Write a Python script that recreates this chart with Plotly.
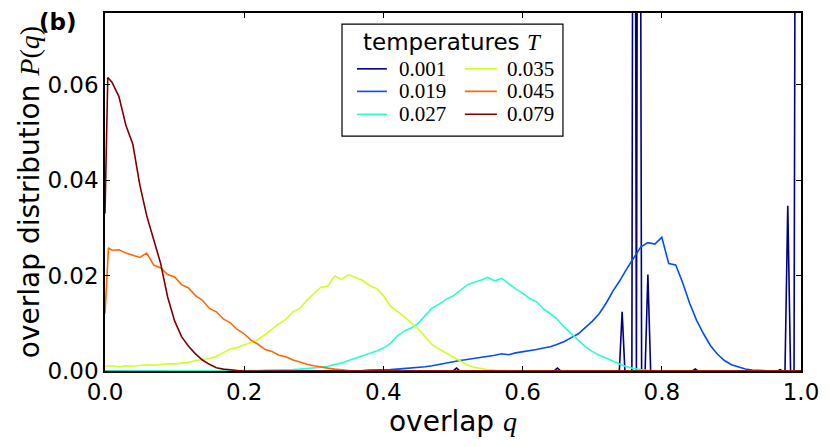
import plotly.graph_objects as go

# overlap histograms P(q) for six temperatures
temps = ["0.001", "0.019", "0.027", "0.035", "0.045", "0.079"]
colors = ["#000080", "#004cff", "#29ffce", "#ceff29", "#ff6800", "#800000"]

q_grid = [round(0.01 * i, 2) for i in range(101)]

# T = 0.001 : frozen, only a few spikes
q_t001 = [0.0, 0.500, 0.505, 0.510, 0.645, 0.650, 0.655, 0.739, 0.743, 0.747,
          0.757, 0.760, 0.7635, 0.767, 0.771, 0.776, 0.780, 0.784, 0.844, 0.848,
          0.852, 0.966, 0.970, 0.974, 0.977, 0.981, 0.985, 0.990, 0.994, 1.0]
p_t001 = [0.0, 0.0, 0.0006, 0.0, 0.0, 0.0006, 0.0, 0.0, 0.0124, 0.0,
          0.0, 0.25, 0.0, 0.25, 0.0, 0.0, 0.0202, 0.0, 0.0, 0.0004,
          0.0, 0.0, 0.0003, 0.0, 0.0, 0.0346, 0.0, 0.0, 0.25, 0.25]

p_t019 = [0.0] * 35 + [
    0.0001, 0.0001, 0.0001, 0.0002, 0.0002, 0.0003, 0.0003, 0.0004, 0.0005, 0.0006,
    0.0007, 0.0009, 0.0011, 0.0014, 0.0016, 0.0020, 0.0022, 0.0024, 0.0026, 0.0028,
    0.0030, 0.0033, 0.0036, 0.0034, 0.0038, 0.0040, 0.0042, 0.0045, 0.0048, 0.0051,
    0.0056, 0.0062, 0.0070, 0.0078, 0.0091, 0.0104, 0.0120, 0.0142, 0.0168, 0.0190,
    0.0215, 0.0238, 0.0260, 0.0269, 0.0266, 0.0280, 0.0225, 0.0222, 0.0185, 0.0142,
    0.0106, 0.0078, 0.0053, 0.0035, 0.0022, 0.0013, 0.0008, 0.0004, 0.0002, 0.0001,
    0.0, 0.0, 0.0, 0.0, 0.0, 0.0]

p_t027 = [0.0] * 20 + [
    0.0001, 0.0001, 0.0001, 0.0002, 0.0002, 0.0002, 0.0003, 0.0003, 0.0004, 0.0005,
    0.0006, 0.0008, 0.0010, 0.0013, 0.0017, 0.0022, 0.0027, 0.0031, 0.0036, 0.0042,
    0.0048, 0.0058, 0.0073, 0.0084, 0.0090, 0.0100, 0.0116, 0.0132, 0.0140, 0.0150,
    0.0157, 0.0168, 0.0180, 0.0186, 0.0190, 0.0196, 0.0189, 0.0194, 0.0183, 0.0172,
    0.0163, 0.0152, 0.0145, 0.0130, 0.0120, 0.0108, 0.0092, 0.0078, 0.0063, 0.0051,
    0.0041, 0.0033, 0.0027, 0.0020, 0.0014, 0.0009, 0.0005, 0.0003, 0.0001] + [0.0] * 22

p_t035 = [
    0.0010, 0.0011, 0.0009, 0.0011, 0.0010, 0.0012, 0.0013, 0.0012, 0.0014, 0.0015,
    0.0015, 0.0017, 0.0018, 0.0022, 0.0024, 0.0026, 0.0031, 0.0038, 0.0046, 0.0049,
    0.0055, 0.0059, 0.0066, 0.0076, 0.0087, 0.0099, 0.0108, 0.0124, 0.0131, 0.0148,
    0.0162, 0.0175, 0.0178, 0.0199, 0.0192, 0.0202, 0.0196, 0.0190, 0.0179, 0.0173,
    0.0158, 0.0136, 0.0125, 0.0114, 0.0101, 0.0088, 0.0072, 0.0055, 0.0046, 0.0038,
    0.0029, 0.0021, 0.0013, 0.0008, 0.0005, 0.0003, 0.0002, 0.0001] + [0.0] * 43

q_t045 = [0.0, 0.005] + q_grid[1:]
p_t045 = [
    0.0120, 0.0258, 0.0253, 0.0254, 0.0247, 0.0243, 0.0238, 0.0247, 0.0222, 0.0216,
    0.0202, 0.0197, 0.0181, 0.0174, 0.0158, 0.0148, 0.0131, 0.0124, 0.0109, 0.0101,
    0.0087, 0.0078, 0.0064, 0.0056, 0.0045, 0.0041, 0.0033, 0.0030, 0.0023, 0.0019,
    0.0014, 0.0011, 0.0008, 0.0006, 0.0004, 0.0002, 0.0001] + [0.0] * 65

q_t079 = [0.0, 0.004] + q_grid[1:]
p_t079 = [
    0.0330, 0.0615, 0.0605, 0.0575, 0.0515, 0.0475, 0.0390, 0.0325, 0.0275, 0.0225,
    0.0155, 0.0105, 0.0072, 0.0052, 0.0036, 0.0023, 0.0014, 0.0007, 0.0004, 0.0002,
    0.0001] + [0.0] * 81

xs = [q_t001, q_grid, q_grid, q_grid, q_t045, q_t079]
ys = [p_t001, p_t019, p_t027, p_t035, p_t045, p_t079]

serif = "Liberation Serif"
sans = "DejaVu Sans"

fig = go.Figure()
for t, c, x, y in zip(temps, colors, xs, ys):
    fig.add_trace(go.Scatter(x=x, y=y, mode="lines", name=t,
                             line=dict(color=c, width=1.6)))

# legend drawn by hand: two columns of three entries inside a framed box
leg_rows = [0.844, 0.781, 0.717]
leg_cols = [(0.362, 0.405, 0.4195), (0.517, 0.563, 0.575)]
shapes = [dict(type="rect", xref="paper", yref="paper",
               x0=0.3405, x1=0.658, y0=0.656, y1=0.969,
               line=dict(color="black", width=1.2), fillcolor="white", layer="above")]
annotations = [
    dict(text="temperatures <span style=\"font-family:'Liberation Serif'\"><i>T</i></span>",
         xref="paper", yref="paper", x=0.4995, y=0.92, xanchor="center", yanchor="middle",
         showarrow=False, font=dict(family=sans, size=23)),
    dict(text="<b>(b)</b>", xref="paper", yref="paper", x=-0.098, y=0.975,
         xanchor="left", yanchor="middle", showarrow=False,
         font=dict(family=sans, size=23)),
]
for i, (t, c) in enumerate(zip(temps, colors)):
    x0, x1, xt = leg_cols[i // 3]
    yy = leg_rows[i % 3]
    shapes.append(dict(type="line", xref="paper", yref="paper", x0=x0, x1=x1, y0=yy, y1=yy,
                       line=dict(color=c, width=1.6), layer="above"))
    annotations.append(dict(text=t, xref="paper", yref="paper", x=xt, y=yy,
                            xanchor="left", yanchor="middle", showarrow=False,
                            font=dict(family=serif, size=21)))

fig.update_layout(
    width=830, height=447,
    margin=dict(l=105, r=29, t=11, b=76),
    paper_bgcolor="white", plot_bgcolor="white",
    font=dict(family=sans, size=23, color="black"),
    showlegend=False,
    xaxis=dict(
        range=[0, 1], tickvals=[0, 0.2, 0.4, 0.6, 0.8, 1.0], tickformat=".1f",
        ticks="inside", ticklen=5, tickwidth=1, tickcolor="black",
        showline=True, linecolor="black", linewidth=1.5, mirror="allticks",
        showgrid=False, zeroline=False,
        title=dict(text="overlap <span style=\"font-family:'Liberation Serif'\"><i>q</i></span>",
                   standoff=2),
    ),
    yaxis=dict(
        range=[0, 0.075], tickvals=[0, 0.02, 0.04, 0.06], tickformat=".2f",
        ticks="inside", ticklen=5, tickwidth=1, tickcolor="black",
        showline=True, linecolor="black", linewidth=1.5, mirror="allticks",
        showgrid=False, zeroline=False,
        title=dict(text="overlap distribution <span style=\"font-family:'Liberation Serif'\"><i>P</i>(<i>q</i>)</span>",
                   standoff=0),
    ),
    shapes=shapes,
    annotations=annotations,
)

# drop the default page margin so the figure sits at the window's corner
fig.write_html("out.html", config={"displayModeBar": False},
               post_script="document.body.style.margin='0';")
